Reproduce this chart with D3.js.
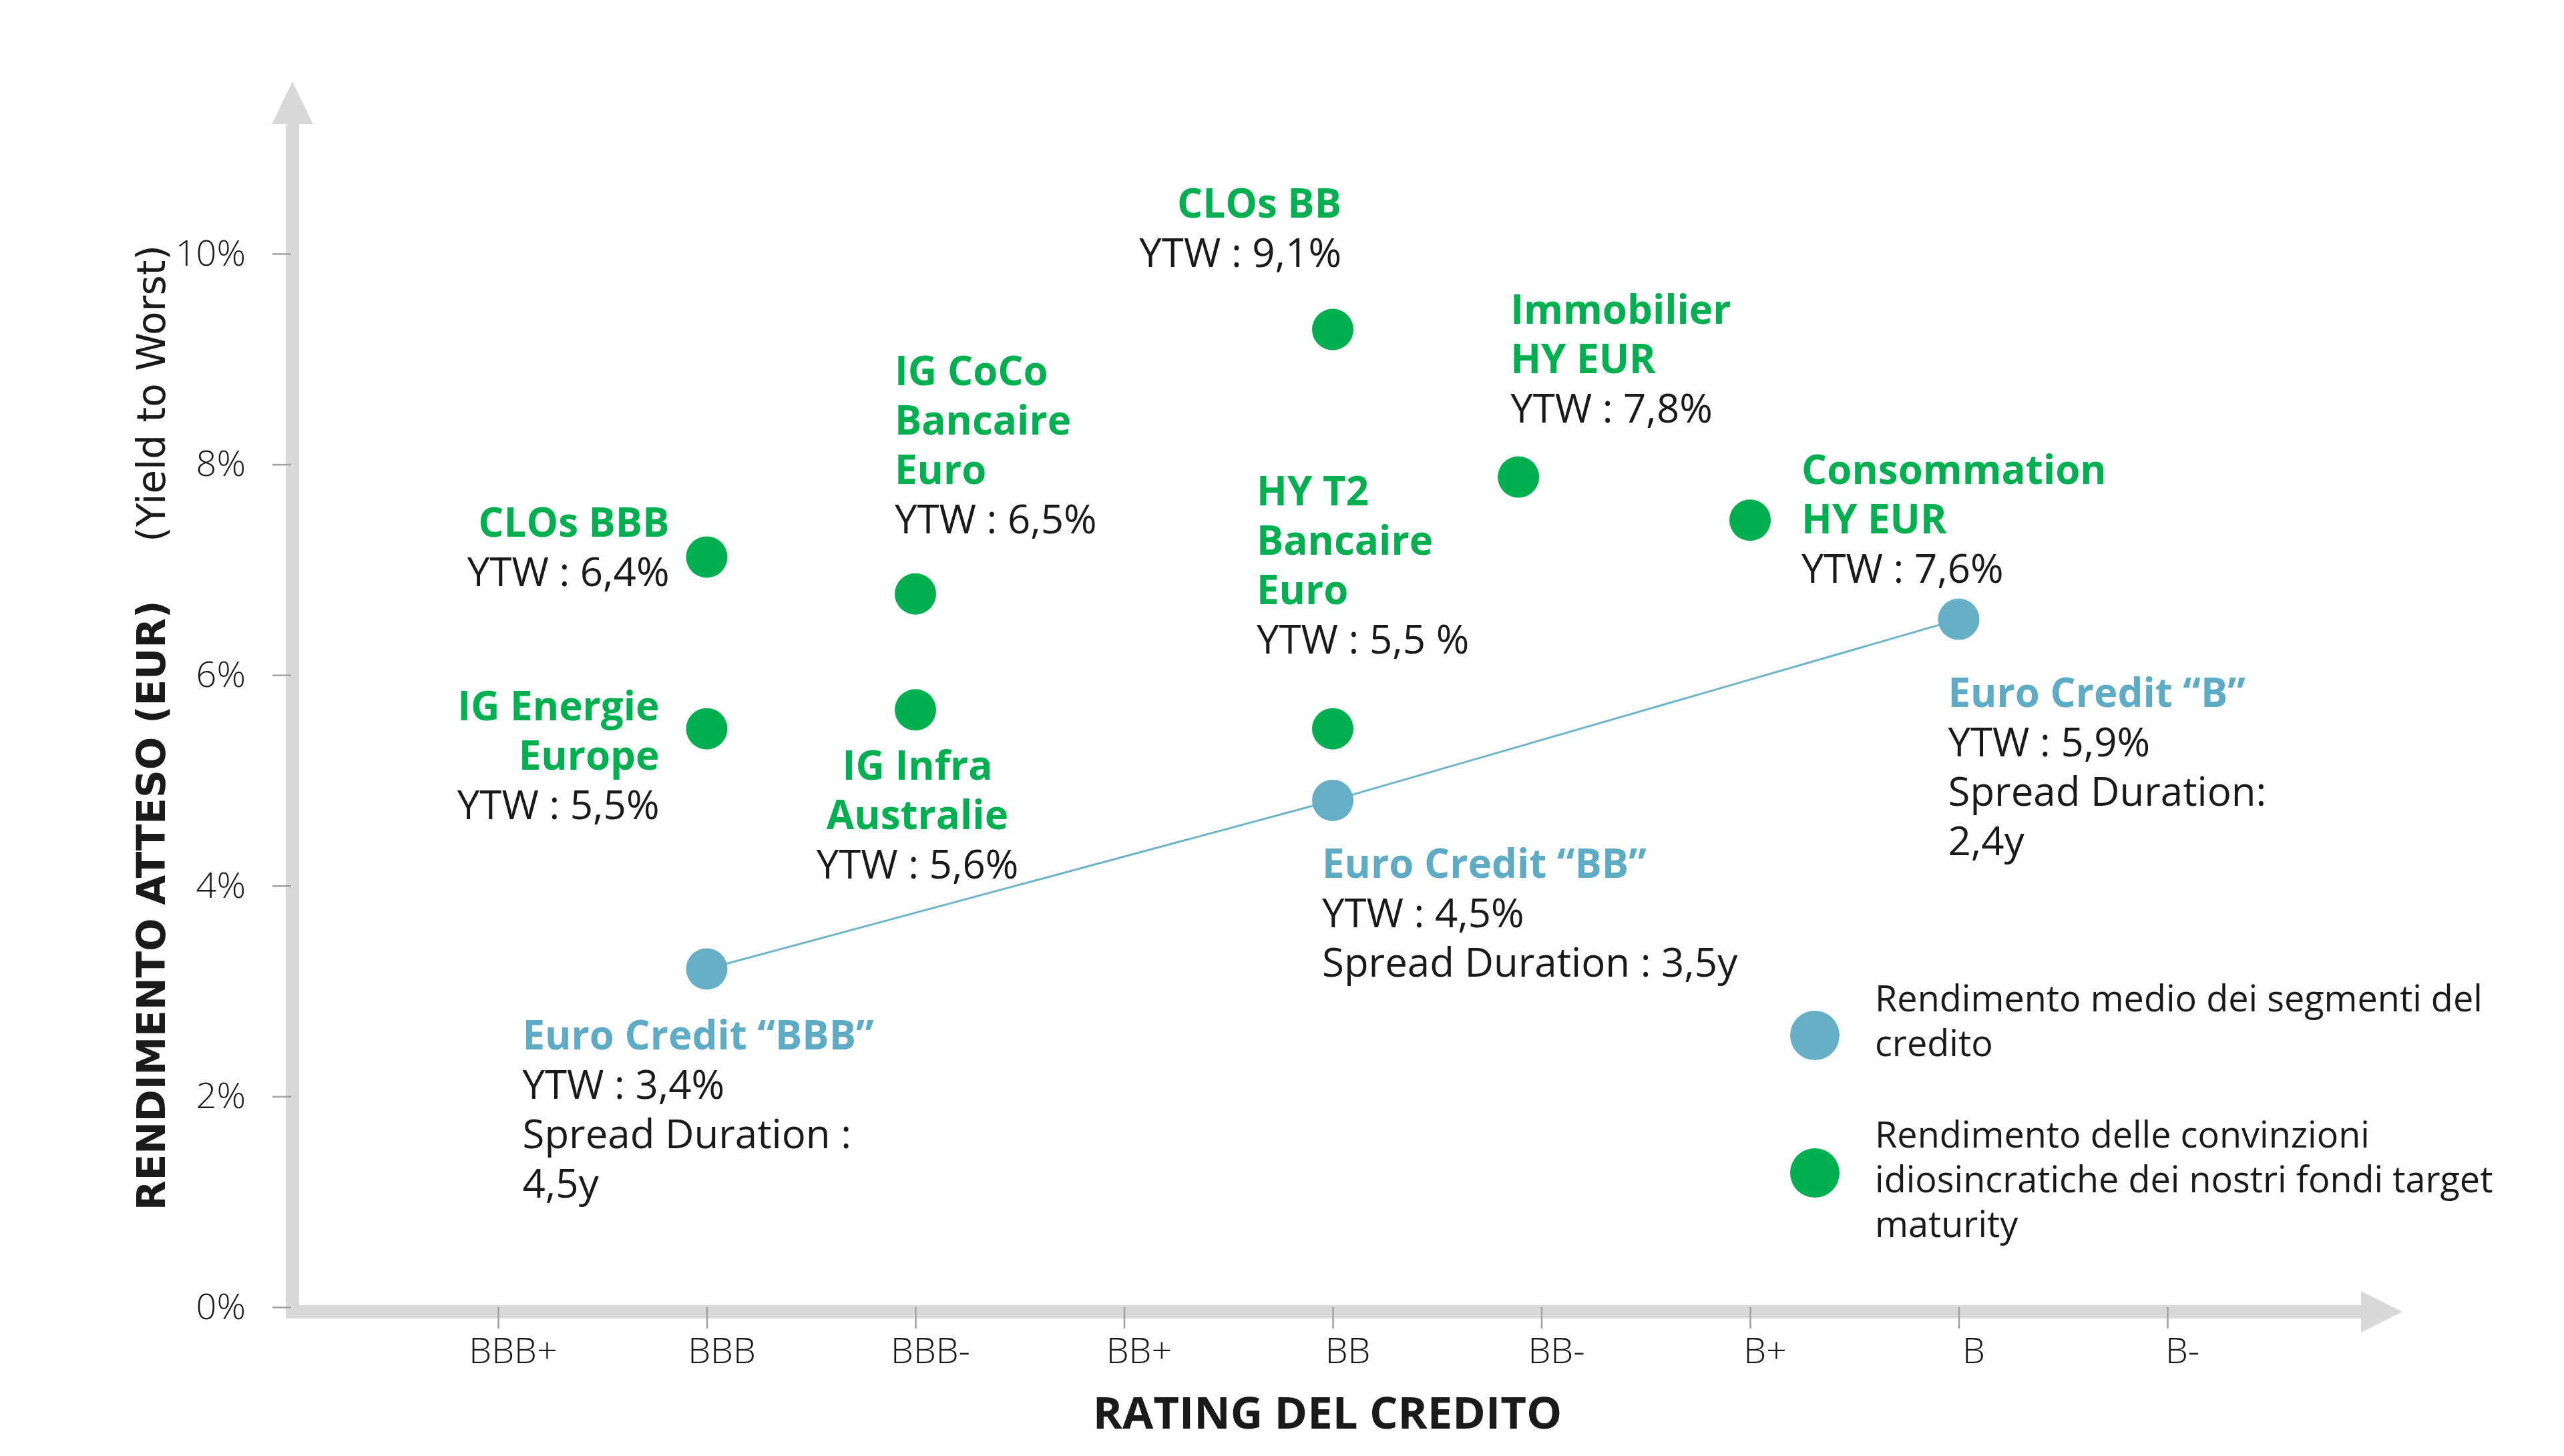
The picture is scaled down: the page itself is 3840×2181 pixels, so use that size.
<!DOCTYPE html>
<html>
<head>
<meta charset="utf-8">
<script src="https://cdn.jsdelivr.net/npm/d3@7/dist/d3.min.js"></script>
<style>
  html, body { margin: 0; padding: 0; background: #ffffff; }
  svg { display: block; }
</style>
</head>
<body>
<svg id="chart" width="3840" height="2181"></svg>
<script>
// ---------- DATA ----------
const ratings = ["BBB+", "BBB", "BBB-", "BB+", "BB", "BB-", "B+", "B", "B-"];
const yTickValues = [0, 2, 4, 6, 8, 10];

// green: idiosyncratic convictions (rating index along x, plotted yield %)
const greenNames   = ["CLOs BBB", "IG Energie Europe", "IG CoCo Bancaire Euro", "IG Infra Australie",
                      "CLOs BB", "HY T2 Bancaire Euro", "Immobilier HY EUR", "Consommation HY EUR"];
const greenRating  = [1, 1, 2, 2, 4, 4, 4.89, 6];
const greenYield   = [7.12, 5.49, 6.77, 5.67, 9.28, 5.49, 7.88, 7.47];
const greenTitles  = [["CLOs BBB"], ["IG Energie", "Europe"], ["IG CoCo", "Bancaire", "Euro"], ["IG Infra", "Australie"],
                      ["CLOs BB"], ["HY T2", "Bancaire", "Euro"], ["Immobilier", "HY EUR"], ["Consommation", "HY EUR"]];
const greenYTW     = ["YTW : 6,4%", "YTW : 5,5%", "YTW : 6,5%", "YTW : 5,6%", "YTW : 9,1%", "YTW : 5,5 %", "YTW : 7,8%", "YTW : 7,6%"];

// blue: average yield of credit segments
const blueNames   = ["Euro Credit \u201CBBB\u201D", "Euro Credit \u201CBB\u201D", "Euro Credit \u201CB\u201D"];
const blueRating  = [1, 4, 7];
const blueYield   = [3.21, 4.81, 6.53];
const blueDetails = [["YTW : 3,4%", "Spread Duration :", "4,5y"],
                     ["YTW : 4,5%", "Spread Duration : 3,5y"],
                     ["YTW : 5,9%", "Spread Duration:", "2,4y"]];

const legendItems = [
  { key: "blue",  lines: ["Rendimento medio dei segmenti del", "credito"] },
  { key: "green", lines: ["Rendimento delle convinzioni", "idiosincratiche dei nostri fondi target", "maturity"] }
];

// ---------- LAYOUT / STYLE (not data) ----------
const GREEN = "#00B050", BLUE_DOT = "#67AFC7", BLUE_TXT = "#5EABC6", LINE = "#6DB4CB";
const AXIS = "#D9D9D9", TICK = "#A0A0A0", TXT = "#1a1a1a";
const FONT = "'Open Sans', 'Noto Sans', sans-serif";
const LABEL_SIZE = 60, LINE_H = 74;

// label offsets relative to the dot: [dx, dy(first baseline), anchor]
const greenOffsets = [[-56, -30, "end"], [-71, -13, "end"], [-31, -313, "start"], [3, 105, "middle"],
                      [13, -168, "end"], [-114, -335, "start"], [-12, -230, "start"], [77, -54, "start"]];
const blueOffsets  = [[-276, 121, "start"], [-16, 116, "start"], [-16, 131, "start"]];

const svg = d3.select("#chart");

const x = d3.scaleLinear().domain([0, 8]).range([746, 3246]);
const y = d3.scaleLinear().domain([0, 10]).range([1958, 380]);

// ---------- AXES (thick grey arrows) ----------
const axisX0 = 438, axisY0 = 1965;
svg.append("rect").attr("x", axisX0 - 10).attr("y", 184).attr("width", 20).attr("height", axisY0 + 10 - 184).attr("fill", AXIS);
svg.append("path").attr("d", `M${axisX0},122 L${axisX0 + 31},186 L${axisX0 - 31},186 Z`).attr("fill", AXIS);
svg.append("rect").attr("x", axisX0 - 10).attr("y", axisY0 - 10).attr("width", 3538 - axisX0 + 10).attr("height", 20).attr("fill", AXIS);
svg.append("path").attr("d", `M3598,${axisY0} L3536,${axisY0 - 31} L3536,${axisY0 + 31} Z`).attr("fill", AXIS);

// y axis ticks
const yAxis = d3.axisLeft(y).tickValues(yTickValues).tickSize(28).tickPadding(40)
  .tickFormat(d => d + "%");
const gy = svg.append("g").attr("transform", `translate(${axisX0 - 2},0)`).call(yAxis);
gy.select(".domain").remove();
gy.selectAll(".tick line").attr("stroke", TICK).attr("stroke-width", 2.5);
gy.selectAll(".tick text").attr("font-family", FONT).attr("font-size", 54).attr("font-weight", 300)
  .attr("fill", TXT);

// x axis ticks
const xAxis = d3.axisBottom(x).tickValues(d3.range(ratings.length)).tickSize(32).tickPadding(14)
  .tickFormat(i => ratings[i]);
const gx = svg.append("g").attr("transform", `translate(0,${1958})`).call(xAxis);
gx.select(".domain").remove();
gx.selectAll(".tick line").attr("stroke", TICK).attr("stroke-width", 2.5);
gx.selectAll(".tick text").attr("font-family", FONT).attr("font-size", 54).attr("font-weight", 300)
  .attr("fill", TXT).attr("dx", 22);

// axis titles
svg.append("text").attr("x", 1988).attr("y", 2140).attr("text-anchor", "middle")
  .attr("font-family", FONT).attr("font-weight", 700).attr("font-size", 67).attr("fill", TXT)
  .text("RATING DEL CREDITO");

svg.append("text").attr("transform", "translate(247,1813) rotate(-90)")
  .attr("text-anchor", "start").attr("font-family", "'DejaVu Sans', sans-serif")
  .attr("font-weight", 700).attr("font-size", 58).attr("fill", TXT)
  .text("RENDIMENTO ATTESO (EUR)");
svg.append("text").attr("transform", "translate(247,367) rotate(-90)")
  .attr("text-anchor", "end").attr("font-family", "'DejaVu Sans', sans-serif")
  .attr("font-weight", 400).attr("font-size", 58).attr("fill", TXT)
  .text("(Yield to Worst)");

// ---------- BLUE LINE + DOTS ----------
const bluePts = blueRating.map((r, i) => [x(r), y(blueYield[i])]);
svg.append("path").attr("d", d3.line()(bluePts)).attr("fill", "none")
  .attr("stroke", LINE).attr("stroke-width", 3);

svg.append("g").selectAll("circle").data(blueRating).join("circle")
  .attr("cx", d => x(d)).attr("cy", (d, i) => y(blueYield[i])).attr("r", 31).attr("fill", BLUE_DOT);

svg.append("g").selectAll("circle").data(greenRating).join("circle")
  .attr("cx", d => x(d)).attr("cy", (d, i) => y(greenYield[i])).attr("r", 31).attr("fill", GREEN);

// ---------- LABELS ----------
function block(cx, cy, off, titleLines, titleColor, detailLines) {
  const [dx, dy, anchor] = off;
  const t = svg.append("text").attr("font-family", FONT).attr("font-size", LABEL_SIZE)
    .attr("text-anchor", anchor);
  let k = 0;
  titleLines.forEach(s => {
    t.append("tspan").attr("x", cx + dx).attr("y", cy + dy + k * LINE_H)
      .attr("font-weight", 700).attr("fill", titleColor).text(s);
    k++;
  });
  detailLines.forEach(s => {
    t.append("tspan").attr("x", cx + dx).attr("y", cy + dy + k * LINE_H)
      .attr("font-weight", 400).attr("fill", TXT).text(s);
    k++;
  });
}
greenNames.forEach((n, i) => {
  block(x(greenRating[i]), y(greenYield[i]), greenOffsets[i], greenTitles[i], GREEN, [greenYTW[i]]);
});
blueNames.forEach((n, i) => {
  block(x(blueRating[i]), y(blueYield[i]), blueOffsets[i], [n], BLUE_TXT, blueDetails[i]);
});

// ---------- LEGEND ----------
const legendX = 2718, legendTextX = 2808;
const legendDotY = [1551, 1757], legendFirstBase = [1515, 1719];
legendItems.forEach((it, i) => {
  svg.append("circle").attr("cx", legendX).attr("cy", legendDotY[i]).attr("r", 37)
    .attr("fill", it.key === "blue" ? BLUE_DOT : GREEN);
  const t = svg.append("text").attr("font-family", FONT).attr("font-size", 54).attr("fill", TXT);
  it.lines.forEach((s, j) => {
    t.append("tspan").attr("x", legendTextX).attr("y", legendFirstBase[i] + j * 67).text(s);
  });
});
</script>
</body>
</html>
